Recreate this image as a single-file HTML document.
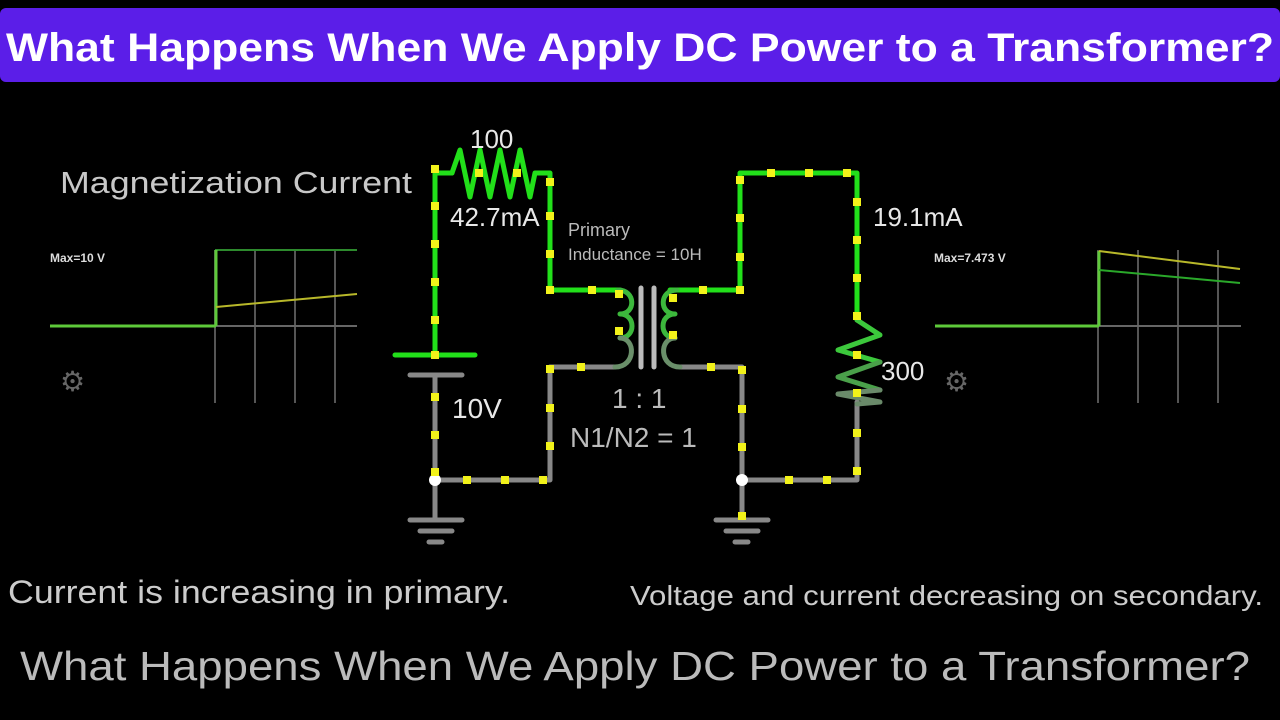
<!DOCTYPE html>
<html><head><meta charset="utf-8"><style>
html,body{margin:0;padding:0;background:#000;width:1280px;height:720px;overflow:hidden}
</style></head><body>
<svg width="1280" height="720" viewBox="0 0 1280 720" xmlns="http://www.w3.org/2000/svg" font-family="Liberation Sans, sans-serif">
<rect width="1280" height="720" fill="#000"/>
<rect x="0" y="8" width="1280" height="74" rx="6" fill="#5b1ee8"/>
<text x="640" y="61" text-anchor="middle" fill="#fff" font-weight="bold" font-size="40" textLength="1268" lengthAdjust="spacingAndGlyphs">What Happens When We Apply DC Power to a Transformer?</text>

<!-- left scope -->
<g stroke-width="2" fill="none">
<line x1="215" y1="250" x2="215" y2="403" stroke="#555"/>
<line x1="255" y1="250" x2="255" y2="403" stroke="#555"/>
<line x1="295" y1="250" x2="295" y2="403" stroke="#555"/>
<line x1="335" y1="250" x2="335" y2="403" stroke="#555"/>
<line x1="215" y1="326" x2="357" y2="326" stroke="#666"/>
<line x1="215" y1="250" x2="357" y2="250" stroke="#2d8a2d"/>
<line x1="50" y1="326" x2="216" y2="326" stroke="#5ec93a" stroke-width="3"/>
<line x1="216" y1="326" x2="216" y2="250" stroke="#5ec93a" stroke-width="3"/>
<line x1="216" y1="307" x2="357" y2="294" stroke="#b8b82a"/>
</g>
<text x="50" y="262" fill="#ddd" font-size="12" font-weight="bold">Max=10 V</text>
<!-- right scope -->
<g stroke-width="2" fill="none">
<line x1="1098" y1="250" x2="1098" y2="403" stroke="#555"/>
<line x1="1138" y1="250" x2="1138" y2="403" stroke="#555"/>
<line x1="1178" y1="250" x2="1178" y2="403" stroke="#555"/>
<line x1="1218" y1="250" x2="1218" y2="403" stroke="#555"/>
<line x1="1098" y1="326" x2="1241" y2="326" stroke="#666"/>
<line x1="935" y1="326" x2="1099" y2="326" stroke="#5ec93a" stroke-width="3"/>
<line x1="1099" y1="326" x2="1099" y2="251" stroke="#5ec93a" stroke-width="3"/>
<line x1="1099" y1="251" x2="1240" y2="269" stroke="#b8b82a"/>
<line x1="1099" y1="270" x2="1240" y2="283" stroke="#2aa82a"/>
</g>
<text x="934" y="262" fill="#ddd" font-size="12" font-weight="bold">Max=7.473 V</text>
<text x="60" y="391" fill="#666" font-size="28">⚙</text>
<text x="944" y="391" fill="#666" font-size="28">⚙</text>

<text x="60" y="193" fill="#c8c8c8" font-size="31" textLength="352" lengthAdjust="spacingAndGlyphs">Magnetization Current</text>

<!-- circuit -->
<g fill="none" stroke-linecap="round" stroke-linejoin="round">
<g stroke="#888" stroke-width="5">
<line x1="435" y1="375" x2="435" y2="520"/>
<polyline points="435,480 550,480 550,367 615,367"/>
<polyline points="742,520 742,367 680,367"/>
<polyline points="742,480 857,480 857,402"/>
<line x1="410" y1="375" x2="462" y2="375"/>
<line x1="410" y1="520" x2="462" y2="520"/>
<line x1="420" y1="531" x2="452" y2="531"/>
<line x1="429" y1="542" x2="442" y2="542"/>
<line x1="716" y1="520" x2="768" y2="520"/>
<line x1="726" y1="531" x2="758" y2="531"/>
<line x1="735" y1="542" x2="748" y2="542"/>
<line x1="641" y1="288" x2="641" y2="367" stroke="#bbb"/>
<line x1="654" y1="288" x2="654" y2="367" stroke="#bbb"/>
</g>
<g stroke="#22e01a" stroke-width="5">
<polyline points="435,355 435,173 452,173"/>
<polyline points="452,173 460,150 470,197 480,150 490,197 500,150 510,197 520,150 530,197 535,173 550,173 550,290 620,290"/>
<line x1="395" y1="355" x2="475" y2="355"/>
<polyline points="670,290 740,290 740,173 857,173 857,320"/>
</g>
<path d="M618,290 C 636,290 636,314 620,314 C 636,314 636,338 620,338" stroke="#3cb83c" stroke-width="5"/>
<path d="M620,338 C 636,338 636,367 615,367" stroke="#6a8f6a" stroke-width="5"/>
<path d="M677,290 C 659,290 659,314 675,314 C 659,314 659,338 675,338" stroke="#3cb83c" stroke-width="5"/>
<path d="M675,338 C 659,338 659,367 680,367" stroke="#6a8f6a" stroke-width="5"/>
<polyline points="857,320 880,335 838,350 880,362" stroke="#3cc83c" stroke-width="5"/>
<polyline points="880,362 838,377 880,390" stroke="#4aa04a" stroke-width="5"/>
<polyline points="880,390 838,394 880,402 857,404" stroke="#6a8a6a" stroke-width="5"/>
</g>
<circle cx="435" cy="480" r="6" fill="#fff"/>
<circle cx="742" cy="480" r="6" fill="#fff"/>
<g fill="#f2f21a">
<rect x="431" y="165" width="8" height="8"/><rect x="431" y="202" width="8" height="8"/><rect x="431" y="240" width="8" height="8"/><rect x="431" y="278" width="8" height="8"/><rect x="431" y="316" width="8" height="8"/><rect x="431" y="351" width="8" height="8"/>
<rect x="475" y="169" width="8" height="8"/><rect x="513" y="169" width="8" height="8"/>
<rect x="546" y="178" width="8" height="8"/><rect x="546" y="212" width="8" height="8"/><rect x="546" y="250" width="8" height="8"/><rect x="546" y="286" width="8" height="8"/>
<rect x="588" y="286" width="8" height="8"/><rect x="615" y="290" width="8" height="8"/><rect x="615" y="327" width="8" height="8"/>
<rect x="669" y="294" width="8" height="8"/><rect x="669" y="331" width="8" height="8"/>
<rect x="699" y="286" width="8" height="8"/><rect x="736" y="286" width="8" height="8"/>
<rect x="736" y="176" width="8" height="8"/><rect x="736" y="214" width="8" height="8"/><rect x="736" y="253" width="8" height="8"/>
<rect x="767" y="169" width="8" height="8"/><rect x="805" y="169" width="8" height="8"/><rect x="843" y="169" width="8" height="8"/>
<rect x="853" y="198" width="8" height="8"/><rect x="853" y="236" width="8" height="8"/><rect x="853" y="274" width="8" height="8"/><rect x="853" y="312" width="8" height="8"/><rect x="853" y="351" width="8" height="8"/><rect x="853" y="389" width="8" height="8"/>
<rect x="853" y="429" width="8" height="8"/><rect x="853" y="467" width="8" height="8"/>
<rect x="785" y="476" width="8" height="8"/><rect x="823" y="476" width="8" height="8"/>
<rect x="738" y="366" width="8" height="8"/><rect x="738" y="405" width="8" height="8"/><rect x="738" y="443" width="8" height="8"/><rect x="738" y="512" width="8" height="8"/>
<rect x="707" y="363" width="8" height="8"/><rect x="577" y="363" width="8" height="8"/>
<rect x="546" y="365" width="8" height="8"/><rect x="546" y="404" width="8" height="8"/><rect x="546" y="442" width="8" height="8"/>
<rect x="463" y="476" width="8" height="8"/><rect x="501" y="476" width="8" height="8"/><rect x="539" y="476" width="8" height="8"/>
<rect x="431" y="393" width="8" height="8"/><rect x="431" y="431" width="8" height="8"/><rect x="431" y="468" width="8" height="8"/>
</g>
<g fill="#e8e8e8" font-size="26">
<text x="470" y="148">100</text>
<text x="450" y="226">42.7mA</text>
<text x="873" y="226">19.1mA</text>
<text x="881" y="380">300</text>
<text x="452" y="418" font-size="28">10V</text>
</g>
<g fill="#bbb">
<text x="568" y="236" font-size="18">Primary</text>
<text x="568" y="260" font-size="17">Inductance = 10H</text>
<text x="612" y="408" font-size="28">1 : 1</text>
<text x="570" y="447" font-size="28">N1/N2 = 1</text>
</g>

<text x="8" y="603" fill="#ccc" font-size="32" textLength="502" lengthAdjust="spacingAndGlyphs">Current is increasing in primary.</text>
<text x="630" y="605" fill="#ccc" font-size="28" textLength="633" lengthAdjust="spacingAndGlyphs">Voltage and current decreasing on secondary.</text>
<text x="20" y="680" fill="#bbb" font-size="41" textLength="1230" lengthAdjust="spacingAndGlyphs">What Happens When We Apply DC Power to a Transformer?</text>
</svg>
</body></html>
